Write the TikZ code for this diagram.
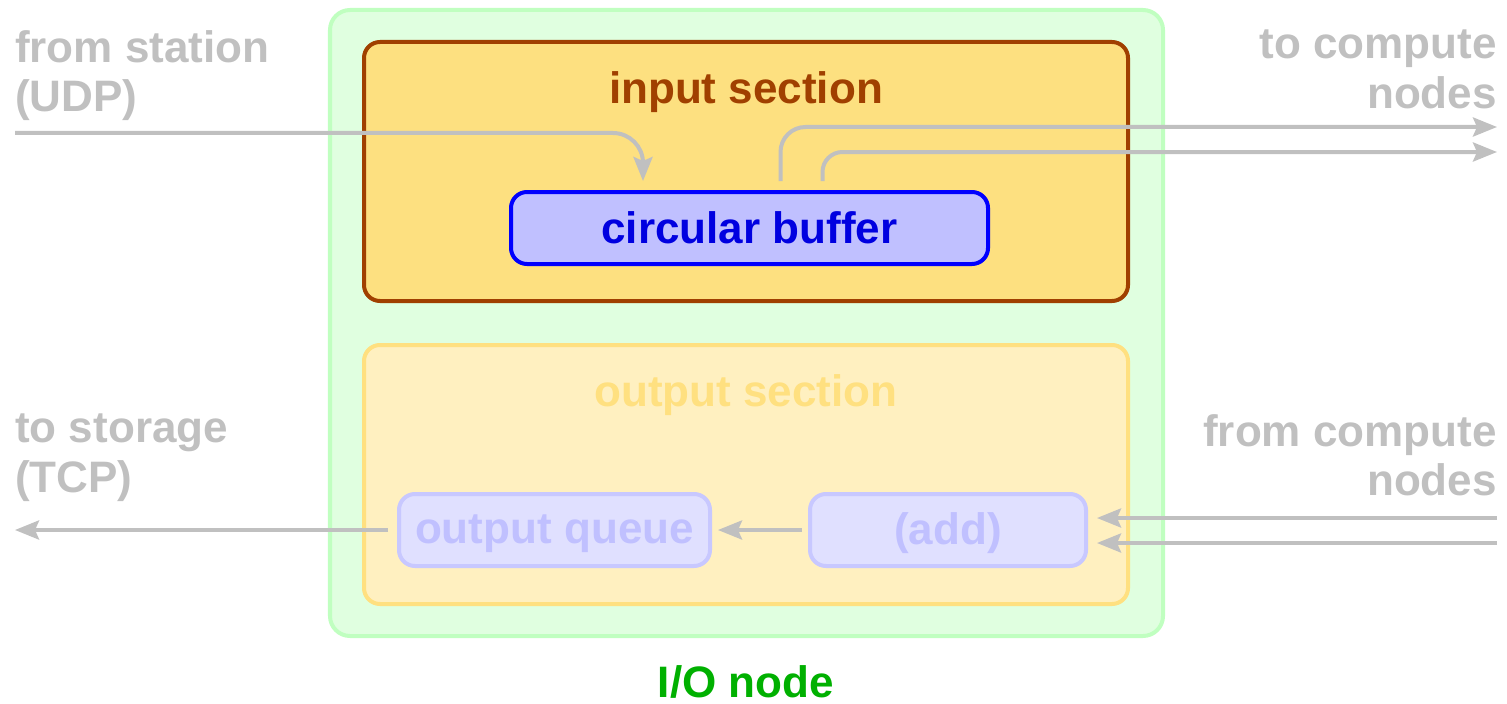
\documentclass[tikz,border=0pt]{standalone}
\usepackage{fontspec}
\setmainfont{Liberation Sans}
\usetikzlibrary{arrows.meta}
\definecolor{iofill}{HTML}{E0FFE0}
\definecolor{ioline}{HTML}{C0FFC0}
\definecolor{iotext}{HTML}{00B000}
\definecolor{infill}{HTML}{FDE080}
\definecolor{inline}{HTML}{A04000}
\definecolor{buffill}{HTML}{C0C0FF}
\definecolor{outfill}{HTML}{FFF0C0}
\definecolor{outline}{HTML}{FFE080}
\definecolor{qfill}{HTML}{E0E0FF}
\definecolor{qline}{HTML}{C8C8FF}
\definecolor{qtext}{HTML}{C0C0FF}
\definecolor{wire}{HTML}{C0C0C0}
\begin{document}
\begin{tikzpicture}[x=1bp,y=-1bp,
  box/.style={draw,rounded corners=16bp,line width=4bp,inner sep=0pt},
  txt/.style={font=\fontsize{44.2}{50}\selectfont\bfseries,inner sep=0pt},
  flow/.style={draw=wire,line width=4bp,-{Stealth[length=24bp,width=19bp,inset=4bp]}}]
 \useasboundingbox (0,0) rectangle (1507,704);
 % boxes
 \node[box,draw=ioline,fill=iofill,rounded corners=20bp,minimum width=833bp,minimum height=626bp] (io) at (746.5,323) {};
 \node[box,draw=inline,fill=infill,minimum width=764bp,minimum height=259bp] (insec) at (746,171.5) {};
 \node[box,draw=blue,fill=buffill,minimum width=477bp,minimum height=72bp] (buf) at (749.5,228) {};
 \node[box,draw=outline,fill=outfill,minimum width=764bp,minimum height=259bp] (outsec) at (746,474.5) {};
 \node[box,draw=qline,fill=qfill,minimum width=311bp,minimum height=72bp] (queue) at (554.5,530) {};
 \node[box,draw=qline,fill=qfill,minimum width=276bp,minimum height=72bp] (add) at (948,530) {};
 % texts
 \node[txt,text=inline] (intxt) at (746,92) {input section};
 \node[txt,text=blue!88!black] (buftxt) at (749.5,228) {circular buffer};
 \node[txt,text=outline] (outtxt) at (746,395) {output section};
 \node[txt,text=qtext] (qtxt) at (554.5,534) {output queue};
 \node[txt,text=qtext] (addtxt) at (948,533) {(add)};
 \node[txt,text=iotext] (iotxt) at (746,682) {I/O node};
 \node[txt,text=wire,align=left,anchor=north west] (udplbl) at (15,30) {from station\\(UDP)};
 \node[txt,text=wire,align=right,anchor=north east] (tolbl) at (1497,30) {to compute\\nodes};
 \node[txt,text=wire,align=left,anchor=north west] (tcplbl) at (15,414) {to storage\\(TCP)};
 \node[txt,text=wire,align=right,anchor=north east] (fromlbl) at (1497,414) {from compute\\nodes};
 % connectors
 \coordinate (udp) at (15,133);
 \coordinate (tc1) at (1497,127);
 \coordinate (tc2) at (1497,152);
 \coordinate (fc1) at (1497,518);
 \coordinate (fc2) at (1497,543);
 \coordinate (tcp) at (15,530);
 \draw[flow,rounded corners=30bp,shorten >=9bp] (udp) -| ([xshift=-106.5bp]buf.north);
 \draw[flow,rounded corners=25bp,shorten <=9bp] ([xshift=31bp]buf.north) |- (tc1);
 \draw[flow,rounded corners=20bp,shorten <=9bp] ([xshift=73bp]buf.north) |- (tc2);
 \draw[flow,shorten >=9bp] (fc1) -- (fc1 -| add.east);
 \draw[flow,shorten >=9bp] (fc2) -- (fc2 -| add.east);
 \draw[flow,shorten <=6bp,shorten >=6bp] (add) -- (queue);
 \draw[flow,shorten <=9bp] (queue) -- (tcp);
\end{tikzpicture}
\end{document}
